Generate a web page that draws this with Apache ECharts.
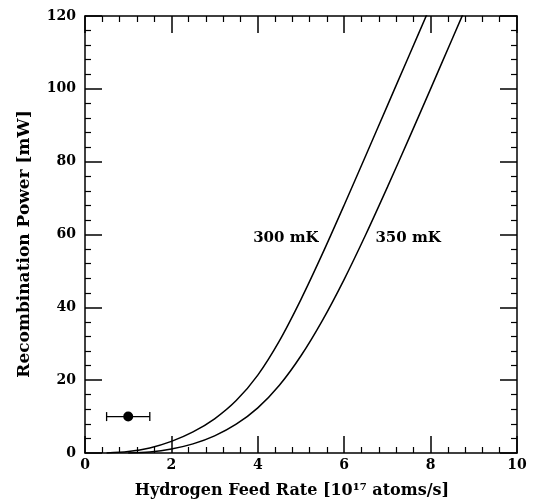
<!DOCTYPE html>
<html><head><meta charset="utf-8">
<script src="https://cdn.jsdelivr.net/npm/echarts@6/dist/echarts.min.js"></script>
<style>html,body{margin:0;padding:0;background:#fff}#c{width:533px;height:503px}</style>
</head><body><div id="c"></div>
<script>
// ---- data ----
const xTickInterval = 2;
const yTickInterval = 20;
const feed300 = [0.5, 1, 1.5, 2, 2.5, 3, 3.5, 4, 4.5, 5, 5.5, 6, 6.5, 7, 7.5, 8];
const power300 = [0, 0.4, 1.4, 3.2, 5.8, 9.4, 14.4, 21.4, 30.8, 42.2, 54.8, 68.1, 81.7, 95.4, 109.1, 122.8];
const feed350 = [1, 1.5, 2, 2.5, 3, 3.5, 4, 4.5, 5, 5.5, 6, 6.5, 7, 7.5, 8, 8.5, 9];
const power350 = [0, 0.3, 1.1, 2.5, 4.7, 7.9, 12.4, 18.6, 26.7, 36.5, 47.7, 60.0, 73.0, 86.4, 100.0, 113.7, 127.4];
const measFeed = [1.0];
const measPower = [10];
const measFeedLo = [0.5];
const measFeedHi = [1.5];
const curveNames = ['300 mK', '350 mK'];
const curveLabelFeed = [4.65, 7.48];
const curveLabelPower = [59, 59];
const xTitle = 'Hydrogen Feed Rate [10¹⁷ atoms/s]';
const yTitle = 'Recombination Power [mW]';

const FONT = 'DejaVu Serif';
const chart = echarts.init(document.getElementById('c'), null, {renderer: 'canvas'});

function axisCommon(showLabel) {
  return {
    axisLine: {show: true, onZero: false, lineStyle: {color: '#000', width: 1.5}},
    axisTick: {show: true, inside: true, length: 17, lineStyle: {color: '#000', width: 1.5}},
    minorTick: {show: true, splitNumber: 5, length: 6, lineStyle: {color: '#000', width: 1.2}},
    splitLine: {show: false},
    minorSplitLine: {show: false},
    axisLabel: {show: showLabel, color: '#000', fontFamily: FONT, fontWeight: 'bold', fontSize: 14}
  };
}

const xMain = Object.assign({type: 'value', min: 0, max: 10, interval: xTickInterval, position: 'bottom',
  name: xTitle, nameLocation: 'middle', nameGap: 30,
  nameTextStyle: {color: '#000', fontFamily: FONT, fontWeight: 'bold', fontSize: 16, padding: [0, 18, 0, 0]}}, axisCommon(true));
xMain.axisLabel.margin = 5;
const xTop = Object.assign({type: 'value', min: 0, max: 10, interval: xTickInterval, position: 'top'}, axisCommon(false));
const yMain = Object.assign({type: 'value', min: 0, max: 120, interval: yTickInterval, position: 'left',
  name: yTitle, nameLocation: 'middle', nameGap: 52, nameRotate: 90,
  nameTextStyle: {color: '#000', fontFamily: FONT, fontWeight: 'bold', fontSize: 17, padding: [0, 19, 0, 0]}}, axisCommon(true));
yMain.axisLabel.margin = 9;
const yRight = Object.assign({type: 'value', min: 0, max: 120, interval: yTickInterval, position: 'right'}, axisCommon(false));

const lineStyle = {color: '#000', width: 1.5};

chart.setOption({
  animation: false,
  backgroundColor: '#fff',
  grid: {left: 85, right: 16, top: 16, bottom: 50, containLabel: false, outerBoundsMode: 'none'},
  xAxis: [xMain, xTop],
  yAxis: [yMain, yRight],
  series: [
    {type: 'line', name: curveNames[0], data: feed300.map((x, i) => [x, power300[i]]), clip: true,
     showSymbol: false, smooth: 0.3, lineStyle: lineStyle, itemStyle: {color: '#000'}},
    {type: 'line', name: curveNames[1], data: feed350.map((x, i) => [x, power350[i]]), clip: true,
     showSymbol: false, smooth: 0.3, lineStyle: lineStyle, itemStyle: {color: '#000'}},
    {type: 'custom', name: 'errbar',
     data: measFeed.map((x, i) => [x, measPower[i], measFeedLo[i], measFeedHi[i]]),
     renderItem: function (params, api) {
       const y = api.value(1);
       const lo = api.coord([api.value(2), y]);
       const hi = api.coord([api.value(3), y]);
       const cap = 4.5;
       const st = {stroke: '#000', lineWidth: 1.3};
       return {type: 'group', children: [
         {type: 'line', shape: {x1: lo[0], y1: lo[1], x2: hi[0], y2: hi[1]}, style: st},
         {type: 'line', shape: {x1: lo[0], y1: lo[1] - cap, x2: lo[0], y2: lo[1] + cap}, style: st},
         {type: 'line', shape: {x1: hi[0], y1: hi[1] - cap, x2: hi[0], y2: hi[1] + cap}, style: st}
       ]};
     }},
    {type: 'scatter', data: measFeed.map((x, i) => [x, measPower[i]]), symbol: 'circle', symbolSize: 10,
     itemStyle: {color: '#000', opacity: 1}},
    {type: 'scatter', data: curveNames.map((n, i) => ({name: n, value: [curveLabelFeed[i], curveLabelPower[i]]})),
     symbolSize: 0, silent: true,
     label: {show: true, position: 'inside', formatter: '{b}', color: '#000', opacity: 1, fontFamily: FONT, fontWeight: 'bold', fontSize: 15}}
  ]
});
</script>
</body></html>
